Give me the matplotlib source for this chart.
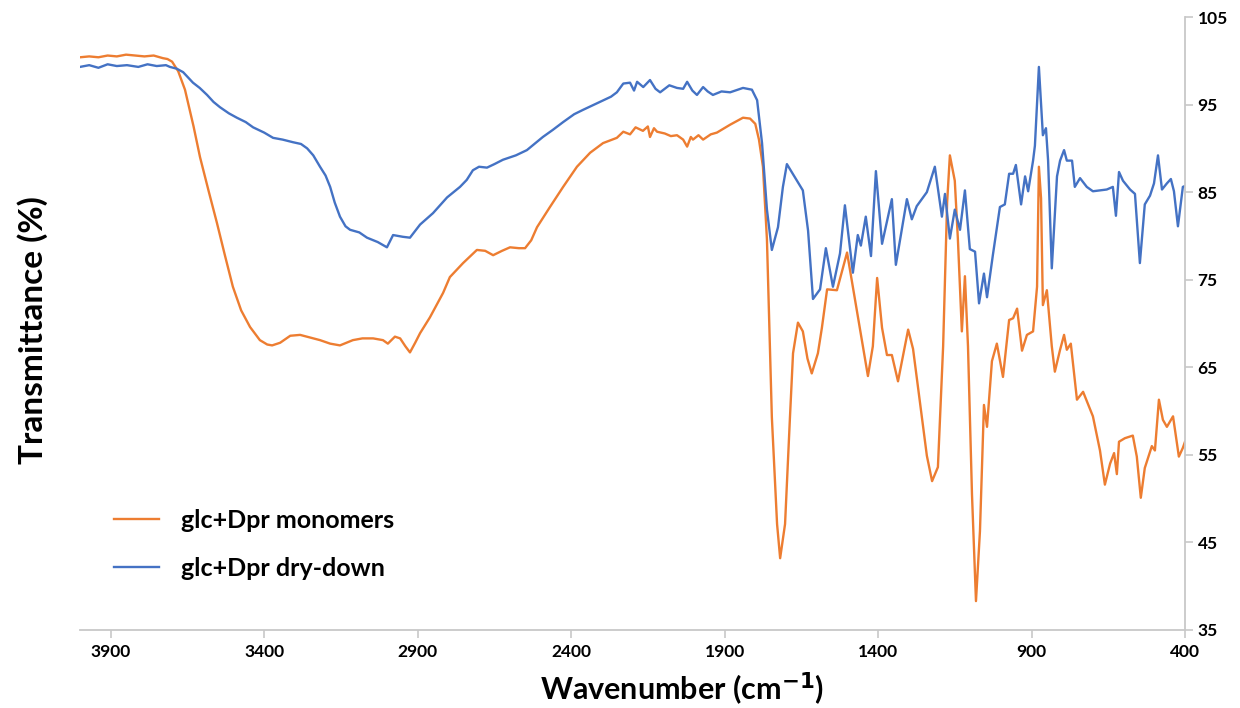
import matplotlib
matplotlib.use("Agg")
import matplotlib.pyplot as plt

# FTIR spectra: wavenumber (cm-1) vs transmittance (%)
mono_wn = [4000, 3970, 3940, 3910, 3880, 3850, 3820, 3790, 3760, 3730, 3715, 3700,
           3680, 3658, 3630, 3609, 3580, 3554, 3528, 3502, 3475, 3446, 3414, 3390,
           3374, 3348, 3315, 3283, 3250, 3218, 3185, 3153, 3111, 3080, 3045, 3013,
           2997, 2974, 2957, 2940, 2925, 2908, 2892, 2860, 2817, 2795, 2752, 2707,
           2680, 2654, 2625, 2599, 2570, 2550, 2530, 2511, 2469, 2426, 2381, 2338,
           2296, 2251, 2230, 2208, 2190, 2166, 2150, 2143, 2130, 2120, 2095, 2075,
           2055, 2035, 2022, 2010, 2003, 1985, 1970, 1945, 1925, 1882, 1840, 1817,
           1800, 1788, 1775, 1762, 1746, 1729, 1719, 1703, 1687, 1677, 1661, 1645,
           1630, 1616, 1596, 1583, 1566, 1534, 1501, 1469, 1433, 1417, 1403, 1387,
           1371, 1355, 1335, 1302, 1286, 1241, 1224, 1205, 1188, 1175, 1166, 1150,
           1140, 1127, 1117, 1107, 1094, 1081, 1068, 1055, 1045, 1029, 1013, 993,
           973, 960, 947, 931, 915, 895, 882, 876, 869, 863, 850, 834, 824, 807, 794,
           785, 772, 752, 732, 700, 677, 661, 644, 631, 622, 615, 596, 570, 557, 544,
           531, 508, 498, 485, 472, 459, 439, 420, 407, 400]
mono_t = [100.4, 100.5, 100.4, 100.6, 100.5, 100.7, 100.6, 100.5, 100.6, 100.3, 100.2, 99.9,
          98.8, 96.7, 92.5, 89.0, 85.0, 81.5, 77.8, 74.2, 71.5, 69.6, 68.1, 67.6,
          67.5, 67.8, 68.6, 68.7, 68.4, 68.1, 67.7, 67.5, 68.1, 68.3, 68.3, 68.1,
          67.7, 68.5, 68.3, 67.4, 66.7, 67.8, 68.9, 70.7, 73.5, 75.3, 76.9, 78.4,
          78.3, 77.8, 78.3, 78.7, 78.6, 78.6, 79.5, 81.0, 83.3, 85.6, 87.9, 89.5,
          90.6, 91.2, 91.9, 91.6, 92.4, 92.0, 92.5, 91.3, 92.3, 91.9, 91.7, 91.4,
          91.5, 91.0, 90.2, 91.3, 91.0, 91.5, 91.0, 91.6, 91.8, 92.7, 93.5, 93.4,
          92.8, 91.0, 87.9, 79.6, 59.3, 47.1, 43.2, 47.1, 59.3, 66.6, 70.1, 69.1,
          66.0, 64.3, 66.6, 69.5, 73.9, 73.8, 78.1, 71.5, 64.0, 67.4, 75.2, 69.5,
          66.4, 66.4, 63.4, 69.3, 67.1, 54.9, 52.0, 53.6, 67.4, 83.8, 89.2, 86.3,
          79.7, 69.1, 75.4, 67.4, 50.5, 38.3, 46.3, 60.7, 58.2, 65.7, 67.7, 63.9,
          70.4, 70.6, 71.7, 66.9, 68.7, 69.1, 74.2, 87.9, 84.3, 72.1, 73.8, 67.4, 64.5, 67.0, 68.7,
          67.0, 67.7, 61.3, 62.2, 59.4, 55.5, 51.6, 54.0, 55.2, 52.8, 56.5, 56.9, 57.2, 54.8, 50.1,
          53.5, 56.0, 55.5, 61.3, 59.0, 58.2, 59.4, 54.8, 55.8, 56.5]

dry_wn = [4000, 3970, 3940, 3910, 3880, 3847, 3810, 3780, 3750, 3720, 3707, 3685,
          3664, 3632, 3610, 3586, 3565, 3544, 3515, 3489, 3460, 3436, 3400, 3371,
          3340, 3306, 3280, 3260, 3240, 3218, 3200, 3185, 3170, 3153, 3135, 3120,
          3090, 3065, 3030, 3000, 2980, 2948, 2925, 2892, 2850, 2804, 2762, 2740,
          2720, 2700, 2674, 2650, 2622, 2580, 2544, 2492, 2460, 2426, 2390, 2361,
          2306, 2270, 2251, 2230, 2208, 2195, 2185, 2165, 2143, 2125, 2110, 2080,
          2055, 2035, 2022, 2005, 1990, 1970, 1955, 1938, 1910, 1882, 1840, 1811,
          1794, 1778, 1762, 1746, 1726, 1710, 1697, 1664, 1645, 1628, 1612, 1589,
          1570, 1547, 1524, 1508, 1482, 1466, 1456, 1440, 1423, 1407, 1387, 1355,
          1342, 1306, 1290, 1274, 1241, 1215, 1192, 1182, 1166, 1150, 1133, 1117,
          1101, 1084, 1071, 1055, 1045, 1026, 1003, 987, 973, 960, 951, 934, 921,
          911, 895, 889, 876, 863, 853, 846, 834, 817, 807, 794, 785, 768, 759,
          742, 720, 700, 677, 655, 635, 625, 615, 602, 579, 563, 547, 531, 514,
          501, 488, 475, 459, 446, 436, 423, 407, 400]
dry_t = [99.3, 99.5, 99.2, 99.6, 99.4, 99.5, 99.3, 99.6, 99.4, 99.5, 99.3, 99.1,
         98.7, 97.5, 96.9, 96.1, 95.3, 94.7, 94.0, 93.5, 93.0, 92.4, 91.8, 91.2,
         91.0, 90.7, 90.5, 90.0, 89.2, 87.9, 86.9, 85.6, 83.8, 82.2, 81.1, 80.7,
         80.4, 79.8, 79.3, 78.7, 80.1, 79.9, 79.8, 81.3, 82.6, 84.4, 85.6, 86.4,
         87.5, 87.9, 87.8, 88.2, 88.7, 89.2, 89.8, 91.3, 92.1, 93.0, 93.9, 94.4,
         95.3, 95.9, 96.4, 97.4, 97.5, 96.6, 97.6, 97.0, 97.8, 96.8, 96.4, 97.2,
         96.9, 96.8, 97.6, 96.6, 96.1, 97.0, 96.5, 96.1, 96.5, 96.4, 96.9, 96.7,
         95.5, 90.6, 83.0, 78.4, 81.0, 85.6, 88.2, 86.3, 85.2, 80.6, 72.8, 73.9,
         78.6, 74.2, 78.0, 83.5, 75.8, 80.1, 78.9, 82.2, 77.7, 87.4, 79.1, 84.2,
         76.7, 84.2, 81.9, 83.4, 85.0, 87.9, 82.2, 84.8, 79.7, 83.0, 80.7, 85.2,
         78.5, 78.2, 72.3, 75.7, 73.0, 77.8, 83.3, 83.6, 87.1, 87.1, 88.1, 83.6, 86.8,
         85.1, 88.6, 90.3, 99.3, 91.5, 92.3, 88.6, 76.3, 86.8, 88.6, 89.8, 88.6, 88.6, 85.6,
         86.6, 85.6, 85.1, 85.2, 85.3, 85.6, 82.3, 87.3, 86.3, 85.3, 84.8, 76.9, 83.6, 84.6,
         86.0, 89.2, 85.3, 86.0, 86.5, 85.1, 81.1, 85.6, 85.7]

series_labels = ["glc+Dpr monomers", "glc+Dpr dry-down"]
x_ticks = [3900, 3400, 2900, 2400, 1900, 1400, 900, 400]
y_ticks = [35, 45, 55, 65, 75, 85, 95, 105]

orange = "#ED7D31"
blue = "#4472C4"
axis_grey = "#C8C8C8"
font = ["Lato", "DejaVu Sans"]

fig = plt.figure(figsize=(12.4, 7.08), dpi=100)
ax = fig.add_axes([80 / 1240, 78 / 708, 1105 / 1240, 613 / 708])

ax.plot(mono_wn, mono_t, color=orange, lw=1.7, label=series_labels[0])
ax.plot(dry_wn, dry_t, color=blue, lw=1.7, label=series_labels[1])

ax.set_xlim(4000, 400)
ax.set_ylim(35, 105)
ax.set_xticks(x_ticks)
ax.set_yticks(y_ticks)

for side in ("top", "left"):
    ax.spines[side].set_visible(False)
for side in ("right", "bottom"):
    ax.spines[side].set_color(axis_grey)
    ax.spines[side].set_linewidth(1.3)

ax.yaxis.tick_right()
ax.tick_params(axis="both", colors=axis_grey, length=6, width=1.2, direction="out",
               labelcolor="black")
ax.tick_params(axis="x", pad=4)
ax.tick_params(axis="y", pad=3)
for lbl in ax.get_xticklabels() + ax.get_yticklabels():
    lbl.set_fontfamily(font)
    lbl.set_fontweight("bold")
    lbl.set_fontsize(12.5)

fig.text(33 / 1240, 1 - 330 / 708, "Transmittance (%)", rotation=90, ha="center",
         va="center", fontsize=24, fontweight="bold", family=font)
fig.text(682 / 1240, 1 - 689 / 708, "Wavenumber (cm$^{\\mathbf{-1}}$)", ha="center",
         va="center", fontsize=22, fontweight="bold", family=font)

leg = ax.legend(loc="upper left", bbox_to_anchor=(0.01, 0.234), frameon=False,
                prop={"family": font, "weight": "bold", "size": 18},
                handlelength=1.8, handletextpad=0.9, labelspacing=1.0)

fig.savefig("out.png", dpi=100, facecolor="white")
